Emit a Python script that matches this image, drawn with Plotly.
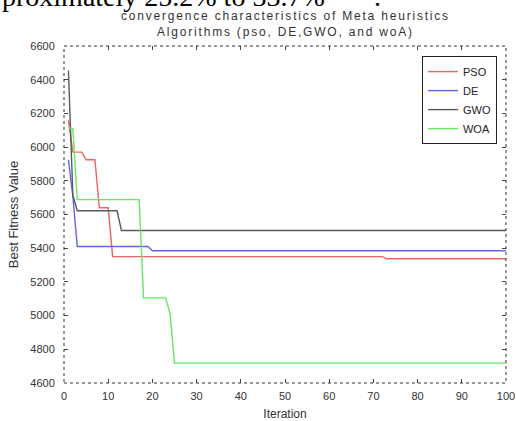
import plotly.graph_objects as go

# ---- data (break points of each staircase curve) ----
pso_iter = [1, 2, 4, 5, 7, 8, 10, 11, 72, 73, 100]
pso_val = [6160, 5970, 5970, 5925, 5925, 5640, 5640, 5350, 5350, 5337, 5337]

de_iter = [1, 2, 3, 19, 20, 100]
de_val = [5925, 5710, 5410, 5410, 5385, 5385]

gwo_iter = [1, 2, 3, 12, 13, 100]
gwo_val = [6455, 5715, 5622, 5622, 5505, 5505]

woa_iter = [1, 2, 3, 17, 18, 23, 24, 25, 100]
woa_val = [6115, 6110, 5688, 5688, 5105, 5105, 5010, 4718, 4718]

series_names = ["PSO", "DE", "GWO", "WOA"]
series_colors = ["#ee6464", "#6464e6", "#5a5a5a", "#64e864"]

x_ticks = [0, 10, 20, 30, 40, 50, 60, 70, 80, 90, 100]
y_ticks = [4600, 4800, 5000, 5200, 5400, 5600, 5800, 6000, 6200, 6400, 6600]

title_lines = ["convergence characteristics of Meta heuristics",
               "Algorithms (pso, DE,GWO, and woA)"]

fig = go.Figure()
for name, xs, ys, col in zip(series_names,
                             [pso_iter, de_iter, gwo_iter, woa_iter],
                             [pso_val, de_val, gwo_val, woa_val],
                             series_colors):
    fig.add_trace(go.Scatter(x=xs, y=ys, mode="lines", name=name,
                             line=dict(color=col, width=1.4)))

axis_font = dict(family="Liberation Sans, Arial, sans-serif", size=11, color="#333333")

fig.update_layout(
    width=516, height=421,
    margin=dict(l=64, r=10, t=46, b=38),
    paper_bgcolor="white", plot_bgcolor="white",
    showlegend=True,
    legend=dict(x=0.9796, y=0.97, xanchor="right", yanchor="top",
                bgcolor="white", bordercolor="#222222", borderwidth=1,
                font=dict(family="Liberation Sans, Arial, sans-serif", size=11, color="#222222"),
                tracegroupgap=0, itemwidth=30),
    xaxis=dict(range=[0, 100], tickvals=x_ticks, ticks="inside", ticklen=4,
               tickcolor="#444444", showgrid=False, zeroline=False,
               showline=True, linecolor="rgba(0,0,0,0)", mirror="ticks",
               tickfont=axis_font, automargin=False, ticklabelstandoff=3,
               title=dict(text="Iteration", standoff=9,
                          font=dict(family="Liberation Sans, Arial, sans-serif", size=12, color="#333333"))),
    yaxis=dict(range=[4600, 6600], tickvals=y_ticks, ticks="inside", ticklen=4,
               tickcolor="#444444", showgrid=False, zeroline=False,
               showline=True, linecolor="rgba(0,0,0,0)", mirror="ticks",
               tickfont=axis_font, automargin=False, ticklabelstandoff=6,
               title=dict(text="Best Fitness Value", standoff=8,
                          font=dict(family="Liberation Sans, Arial, sans-serif", size=13, color="#333333"))),
)

# dashed axes box
fig.add_shape(type="rect", xref="paper", yref="paper", x0=0, y0=0, x1=1, y1=1,
              line=dict(color="#333333", width=1, dash="3px,3px"), layer="above")

# two-line title
fig.add_annotation(
    text="<br>".join('<span style="letter-spacing:1.8px">' + t + "</span>" for t in title_lines),
    xref="paper", yref="paper", x=0.5, y=1.065, xanchor="center", yanchor="middle",
    showarrow=False, align="center",
    font=dict(family="Liberation Sans, Arial, sans-serif", size=12, color="#333333"))

# cropped document text visible at the top of the image
fig.add_annotation(text="proximately 25.2% to 33.7%", xref="paper", yref="paper",
                   x=-64 / 442, y=1.095, xanchor="left", yanchor="bottom", showarrow=False,
                   font=dict(family="Liberation Serif, Times New Roman, serif", size=28, color="black"))
fig.add_annotation(text=".", xref="paper", yref="paper",
                   x=(372 - 64) / 442, y=1.095, xanchor="left", yanchor="bottom", showarrow=False,
                   font=dict(family="Liberation Serif, Times New Roman, serif", size=28, color="black"))

# remove the default 8px page margin so the 516x421 figure fills the window exactly
fig.write_html("out.html", config={"displayModeBar": False},
               post_script="document.body.style.margin='0';document.body.style.overflow='hidden';")
